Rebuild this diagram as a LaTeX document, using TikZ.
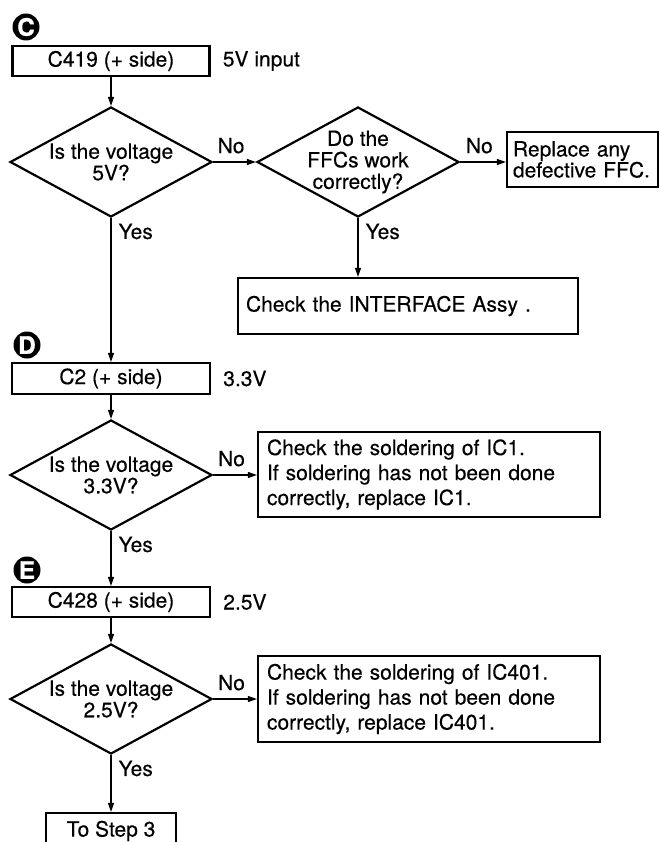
\documentclass[tikz,border=0pt]{standalone}
\usepackage{fontspec}
\setmainfont{TeX Gyre Heros}[FakeBold=0.3]
\newfontfamily\badgefont{TeX Gyre Heros Bold}[FakeBold=1.5]
\usetikzlibrary{shapes.geometric, positioning, arrows.meta}

\begin{document}
\begin{tikzpicture}[x=1pt, y=-1pt,
    box/.style={draw, line width=2.2pt, inner sep=0pt, font=\fontsize{21}{24}\selectfont},
    ask/.style={draw, diamond, line width=2.2pt, aspect=1.84, inner sep=-20pt,
        minimum width=202pt, minimum height=110pt, align=center,
        font=\fontsize{21}{21.5}\selectfont},
    badge/.style={circle, fill=black, text=white, minimum size=27pt, inner sep=0pt,
        font=\fontsize{24}{24}\badgefont},
    note/.style={inner sep=0pt, font=\fontsize{21}{24}\selectfont},
    yes/.style={note, anchor=north west, xshift=7pt, yshift=-5pt},
    no/.style={note, above=8pt},
    arr/.style={line width=1.1pt, -{Triangle[length=9pt,width=6pt]}}]

    % Page frame
    \useasboundingbox (0,0) rectangle (660,842);

    % Step badges
    \node[badge] (bC) at (26,27) {C};
    \node[badge] (bD) at (27,345) {D};
    \node[badge] (bE) at (27,570) {E};

    % C: 5V input
    \node[box, minimum width=197pt, minimum height=30pt] (c419) at (111,61) {C419 (+ side)};
    \node[note, right=12pt of c419] (v5) {5V input};
    \node[ask] (q5) at (111,162) {Is the voltage\\5V?};
    \node[ask] (qffc) at (358,162) {Do the\\FFCs work\\correctly?};
    \node[box, text width=139pt, inner xsep=6pt, minimum height=55pt, align=left,
        font=\fontsize{21}{21}\selectfont] (rffc) at (582.5,159.5) {Replace any\\defective FFC.};
    \node[box, text width=324pt, inner xsep=8pt, minimum height=56pt, align=left] (chkif)
        at (408,306) {Check the INTERFACE Assy .};

    % D: 3.3V
    \node[box, minimum width=198pt, minimum height=31pt] (c2) at (111,378.5) {C2 (+ side)};
    \node[note, right=12pt of c2] (v33) {3.3V};
    \node[ask] (q33) at (111,475) {Is the voltage\\3.3V?};
    \node[box, text width=324pt, inner xsep=9pt, minimum height=85pt, align=left,
        font=\fontsize{21}{25}\selectfont] (chk1) at (429,474.5)
        {Check the soldering of IC1.\\If soldering has not been done\\correctly, replace IC1.};

    % E: 2.5V
    \node[box, minimum width=198pt, minimum height=30pt] (c428) at (111,602) {C428 (+ side)};
    \node[note, right=12pt of c428] (v25) {2.5V};
    \node[ask] (q25) at (111,699) {Is the voltage\\2.5V?};
    \node[box, text width=324pt, inner xsep=9pt, minimum height=86pt, align=left,
        font=\fontsize{21}{25}\selectfont] (chk401) at (429,699)
        {Check the soldering of IC401.\\If soldering has not been done\\correctly, replace IC401.};
    \node[box, minimum width=130pt, minimum height=36pt] (step3) at (111,831) {To Step 3};

    % Connectors
    \draw[arr] (c419.south) -- (q5.north);
    \draw[arr] (q5.east) -- node[no, pos=0.42] {No} (qffc.west);
    \draw[arr] (qffc.east) -- node[no, pos=0.42] {No} (qffc.east -| rffc.west);
    \draw[arr] (qffc.south) -- node[yes, at start] {Yes} (qffc.south |- chkif.north);
    \draw[arr] (q5.south) -- node[yes, at start] {Yes} (c2.north);
    \draw[arr] (c2.south) -- (q33.north);
    \draw[arr] (q33.east) -- node[no, pos=0.42] {No} (q33.east -| chk1.west);
    \draw[arr] (q33.south) -- node[yes, at start] {Yes} (c428.north);
    \draw[arr] (c428.south) -- (q25.north);
    \draw[arr] (q25.east) -- node[no, pos=0.42] {No} (q25.east -| chk401.west);
    \draw[arr] (q25.south) -- node[yes, at start] {Yes} (step3.north);
\end{tikzpicture}
\end{document}
